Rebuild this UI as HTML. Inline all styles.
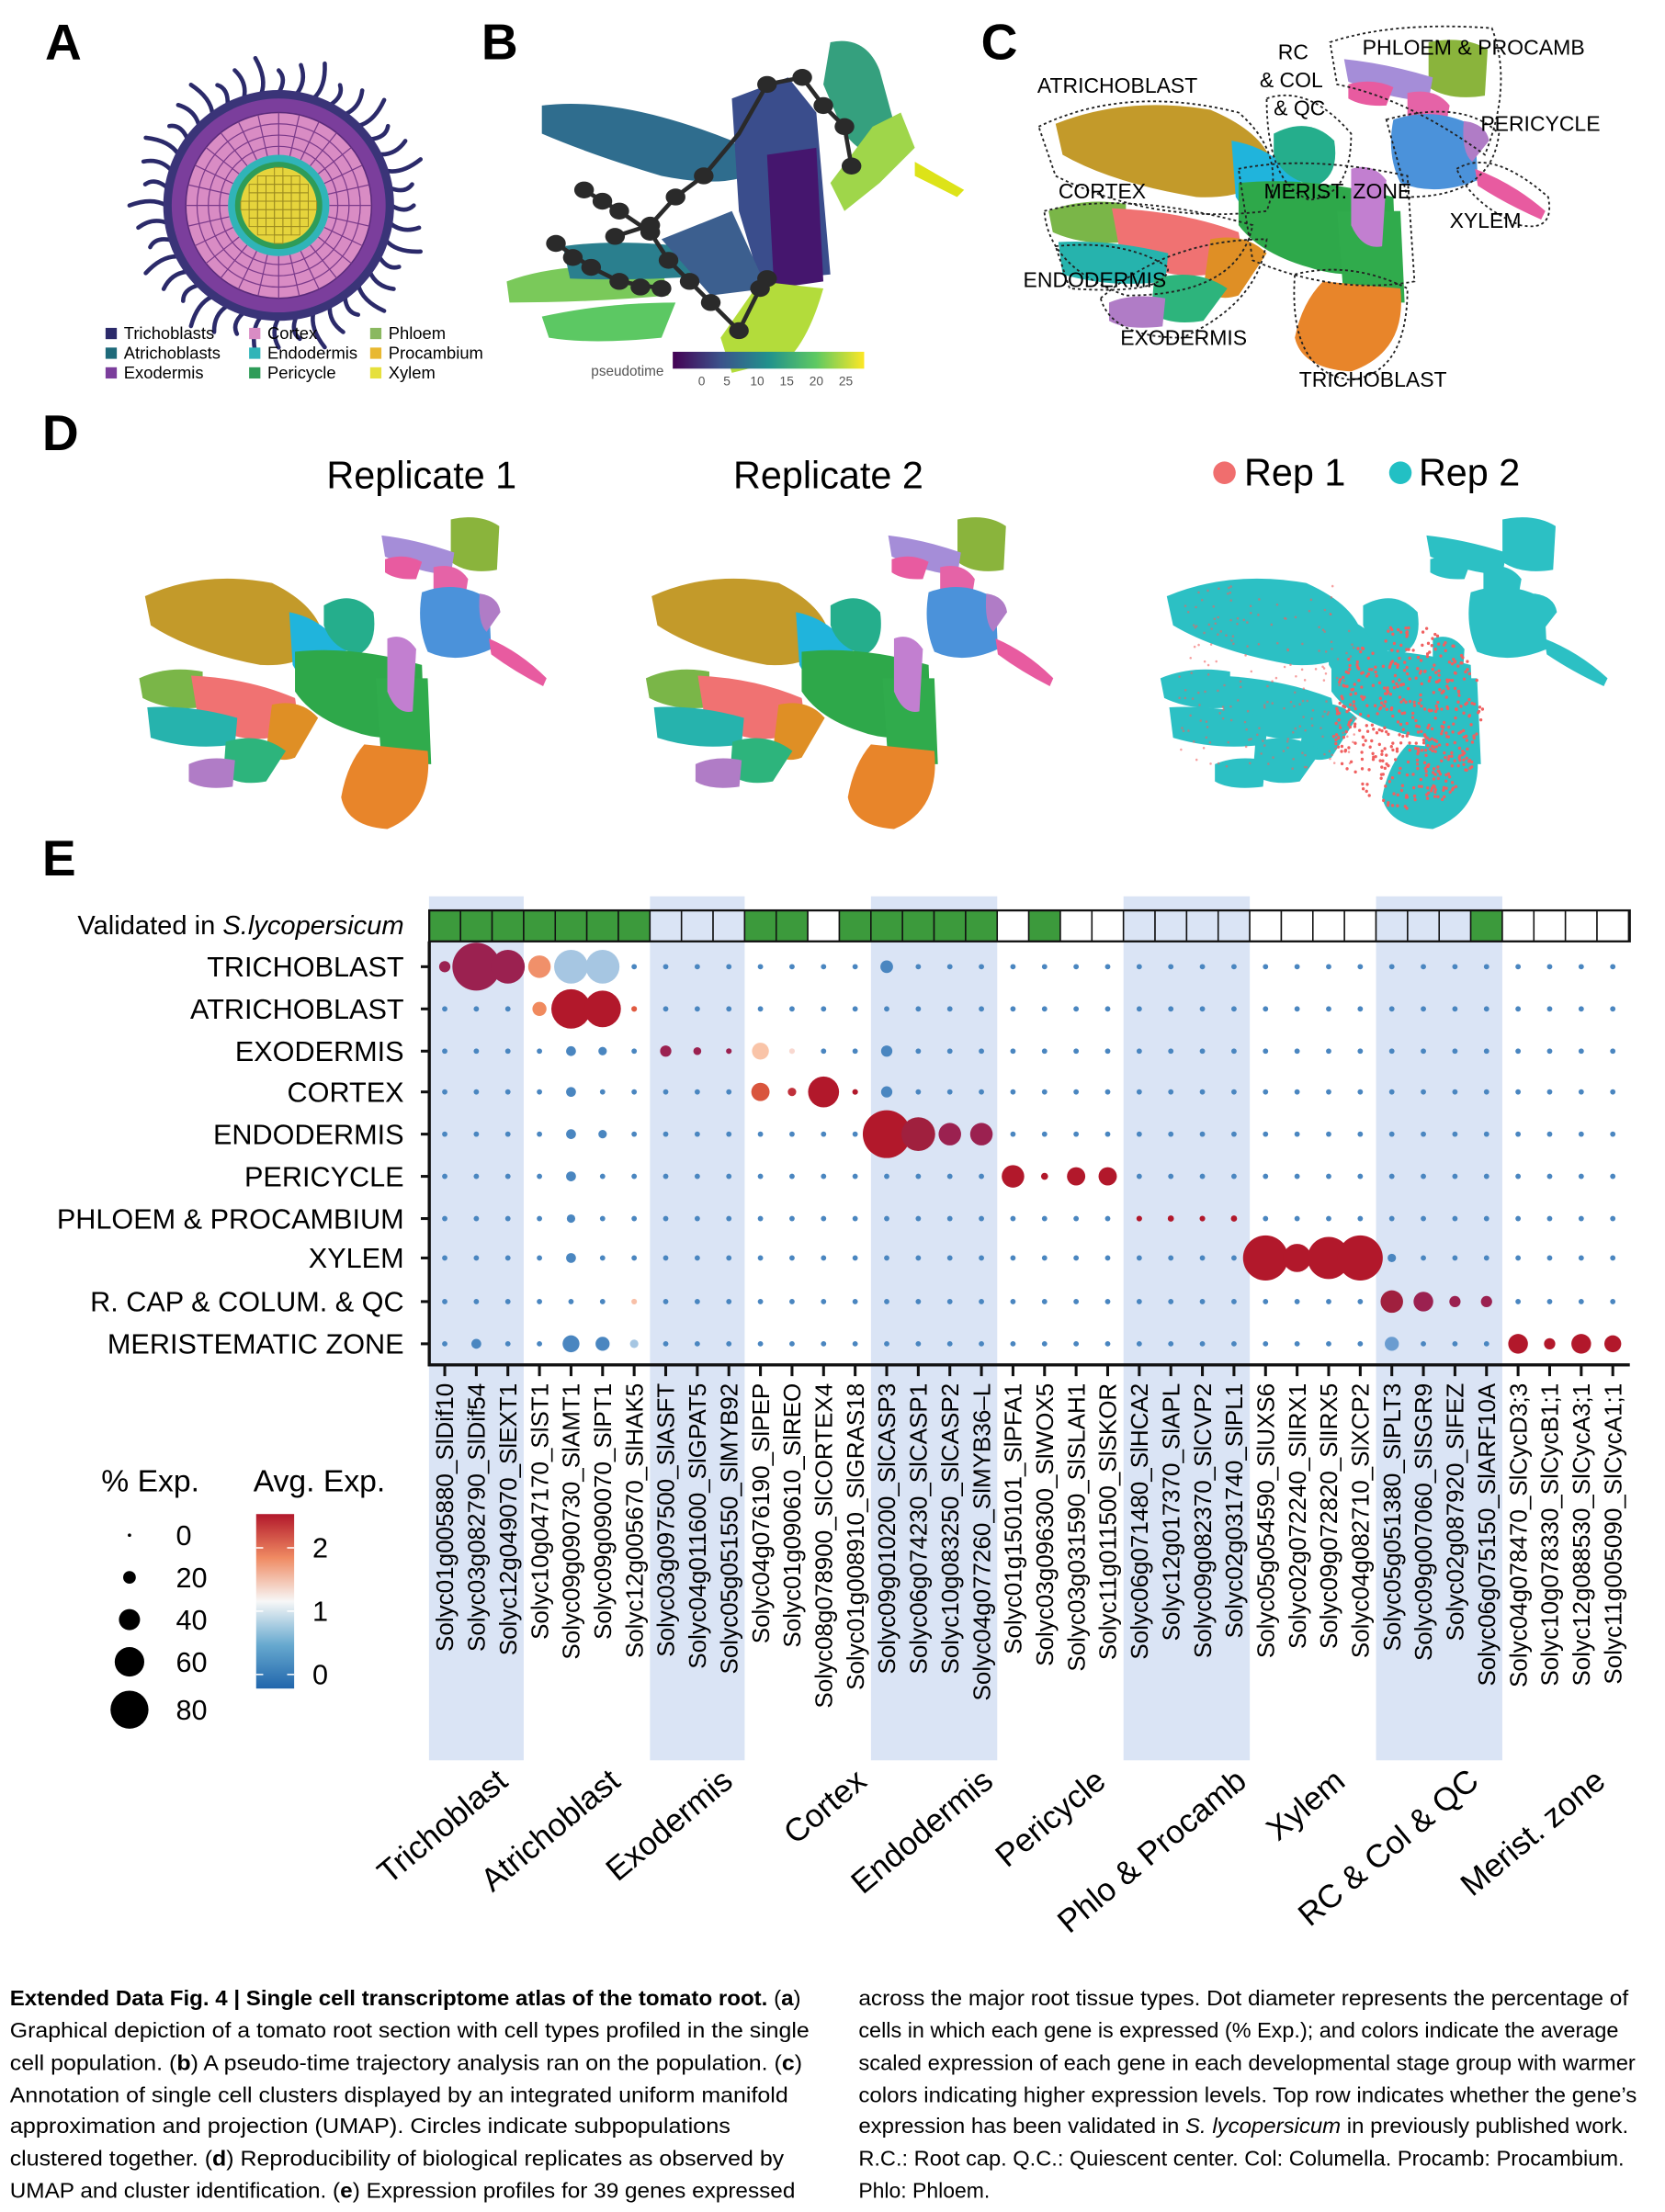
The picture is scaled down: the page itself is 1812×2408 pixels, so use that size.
<!DOCTYPE html>
<html><head><meta charset="utf-8"><style>
html,body{margin:0;padding:0;background:#fff;}
#wrap{width:1812px;height:2408px;overflow:hidden;position:relative;}
svg{display:block;}
text{font-family:"Liberation Sans",sans-serif;}
</style></head><body><div id="wrap">
<svg id="s" width="1812" height="2408" viewBox="0 0 1183 1572" preserveAspectRatio="none" xmlns="http://www.w3.org/2000/svg">
<defs>
<linearGradient id="vir" x1="0" x2="1" y1="0" y2="0">
<stop offset="0" stop-color="#440154"/><stop offset="0.25" stop-color="#3b528b"/><stop offset="0.5" stop-color="#21918c"/><stop offset="0.75" stop-color="#5ec962"/><stop offset="1" stop-color="#fde725"/></linearGradient>
<linearGradient id="rdbu" x1="0" x2="0" y1="0" y2="1">
<stop offset="0" stop-color="#b2182b"/><stop offset="0.25" stop-color="#ef8a62"/><stop offset="0.5" stop-color="#f7f7f7"/><stop offset="0.75" stop-color="#67a9cf"/><stop offset="1" stop-color="#2166ac"/></linearGradient>
<g id="umap">
<path d="M750,88 Q800,68 860,78 Q900,95 905,120 Q890,142 850,140 Q790,130 755,110 Z" fill="#c39a2a"/>
<path d="M875,100 Q905,105 925,130 L915,165 Q890,160 878,140 Z" fill="#20b4dc"/>
<path d="M905,95 Q930,82 948,100 Q952,125 935,132 Q912,128 905,110 Z" fill="#25ae8c"/>
<path d="M880,130 Q930,125 990,140 L992,190 Q960,200 930,190 Q895,180 880,160 Z" fill="#2ea84a"/>
<path d="M950,150 L995,150 L998,215 L955,215 Z" fill="#30ab4c"/>
<path d="M940,200 L995,205 Q1000,250 960,264 Q925,262 920,240 Q925,215 940,200 Z" fill="#e8852a"/>
<path d="M745,150 Q770,140 800,145 L800,172 Q770,175 748,165 Z" fill="#7ab648"/>
<path d="M790,148 Q840,150 880,165 Q885,185 860,195 Q820,200 795,175 Z" fill="#f07272"/>
<path d="M752,172 Q790,170 830,180 L828,200 Q790,205 755,195 Z" fill="#26b3ad"/>
<path d="M860,170 Q885,165 900,180 L880,210 Q865,215 855,205 Z" fill="#df8f25"/>
<path d="M820,198 Q850,190 872,205 L855,228 Q830,232 818,222 Z" fill="#2db47c"/>
<path d="M788,215 Q805,208 828,212 L826,232 Q800,235 788,228 Z" fill="#b07cc6"/>
<path d="M1015,30 Q1040,25 1057,35 L1055,68 Q1030,72 1015,62 Z" fill="#8ab43c"/>
<path d="M955,42 Q985,45 1018,55 L1015,72 Q985,70 958,58 Z" fill="#a58dd8"/>
<path d="M958,60 Q975,55 990,62 L985,75 Q968,76 958,70 Z" fill="#e85ba0"/>
<path d="M1000,66 Q1020,62 1030,75 L1025,102 Q1008,105 1000,90 Z" fill="#e563a7"/>
<path d="M990,85 Q1020,75 1048,90 L1050,128 Q1020,140 995,130 Q985,110 990,85 Z" fill="#4b92da"/>
<path d="M1040,86 Q1056,88 1058,100 L1046,115 Q1038,108 1040,86 Z" fill="#b07cc6"/>
<path d="M960,120 Q975,115 985,128 L982,175 Q968,178 960,160 Z" fill="#c27fd0"/>
<path d="M1048,120 Q1075,130 1098,150 L1095,156 Q1070,145 1050,132 Z" fill="#e85ba0"/>
</g>
</defs>

<!-- Panel letters -->
<g font-weight="bold" font-size="36">
<text x="32" y="42">A</text><text x="342" y="42">B</text><text x="697" y="42">C</text>
<text x="30" y="320">D</text><text x="30" y="622">E</text></g>

<!-- Panel A -->
<g transform="translate(198,146)">
<g stroke="#2b2a6a" stroke-width="3" fill="none" stroke-linecap="round" id="hairs"></g>
<circle r="82" fill="#3a3478"/>
<circle r="76" fill="#7b3e9c"/>
<circle r="66" fill="#d98cc4" stroke="#5a2a7a" stroke-width="1"/>
<g id="cells" fill="none" stroke="#7a3a8a" stroke-width="0.8"></g>
<circle r="36" fill="#30b4b8"/>
<circle r="31" fill="#2e9c58"/>
<circle r="27" fill="#e6d43c"/>
<g id="xcells" fill="none" stroke="#9a8a20" stroke-width="0.6"></g>
</g>
<g font-size="12">
<rect x="75" y="233" width="8" height="8" fill="#2b2a6a"/><text x="88" y="241">Trichoblasts</text>
<rect x="75" y="247" width="8" height="8" fill="#1e6a7a"/><text x="88" y="255">Atrichoblasts</text>
<rect x="75" y="261" width="8" height="8" fill="#7b3e9c"/><text x="88" y="269">Exodermis</text>
<rect x="177" y="233" width="8" height="8" fill="#d98cc4"/><text x="190" y="241">Cortex</text>
<rect x="177" y="247" width="8" height="8" fill="#30b4b8"/><text x="190" y="255">Endodermis</text>
<rect x="177" y="261" width="8" height="8" fill="#2e9c58"/><text x="190" y="269">Pericycle</text>
<rect x="263" y="233" width="8" height="8" fill="#8ab860"/><text x="276" y="241">Phloem</text>
<rect x="263" y="247" width="8" height="8" fill="#e8b830"/><text x="276" y="255">Procambium</text>
<rect x="263" y="261" width="8" height="8" fill="#e6e03c"/><text x="276" y="269">Xylem</text>
</g>

<!-- Panel B -->
<g>
<path d="M385,75 Q440,68 520,100 L540,120 Q520,135 470,125 Q420,110 385,95 Z" fill="#2f6d8e"/>
<path d="M520,70 L560,55 L580,80 L590,195 L540,200 L525,150 Z" fill="#3a4d8c"/>
<path d="M545,110 L580,105 L585,200 L550,205 Z" fill="#45166e"/>
<path d="M590,30 Q615,25 625,50 L640,105 Q620,120 600,95 L585,60 Z" fill="#35a07e"/>
<path d="M620,90 L640,80 L650,105 L625,130 L600,150 L590,130 Z" fill="#9fd64a"/>
<path d="M650,115 L685,135 L680,140 L650,125 Z" fill="#dde318"/>
<path d="M360,200 Q400,185 470,190 L475,210 Q420,215 362,215 Z" fill="#7ac95a"/>
<path d="M400,175 Q450,168 520,180 L515,195 Q460,200 405,198 Z" fill="#2a7f8e"/>
<path d="M385,225 Q430,215 480,215 L470,240 Q420,245 390,240 Z" fill="#5cc863"/>
<path d="M540,200 L585,205 Q575,240 560,255 L520,265 L512,240 Z" fill="#b3dc3b"/>
<path d="M470,170 L520,150 L545,205 L505,210 Z" fill="#3c5f8f"/>
<g stroke="#2a2a2a" stroke-width="3" fill="none">
<polyline points="415,135 440,150 462,165 475,185 490,200 505,215 525,235 540,205"/>
<polyline points="437,168 462,160 480,140 500,125 525,95 545,60 570,55 585,75 600,90 605,118"/>
<polyline points="395,173 420,190 440,200 470,205"/>
</g>
<g fill="#2a2a2a" id="bdots"></g>
<rect x="478" y="250" width="136" height="12" fill="url(#vir)"/>
<text x="420" y="267" font-size="10" fill="#555">pseudotime</text>
<g font-size="9" fill="#555"><text x="496" y="274">0</text><text x="514" y="274">5</text><text x="533" y="274">10</text><text x="554" y="274">15</text><text x="575" y="274">20</text><text x="596" y="274">25</text></g>
</g>

<!-- Panel C -->
<use href="#umap"/>
<g fill="none" stroke="#222" stroke-width="1.2" stroke-dasharray="2,2">
<path d="M738,90 Q800,60 880,80 Q915,110 900,150 Q820,160 750,125 Z"/>
<path d="M900,70 Q930,60 960,95 Q960,140 930,142 Q900,130 900,70 Z"/>
<path d="M945,30 Q990,15 1060,20 Q1075,60 1055,110 Q1000,70 950,60 Z"/>
<path d="M985,85 Q1040,70 1065,95 Q1060,140 1000,140 Z"/>
<path d="M1035,120 Q1060,105 1100,140 Q1105,165 1080,160 Q1045,145 1035,120 Z"/>
<path d="M880,120 Q930,110 1000,125 L1005,200 Q950,210 890,185 Z"/>
<path d="M742,150 Q800,135 890,160 Q880,210 800,210 Q745,190 742,150 Z"/>
<path d="M750,175 Q800,170 830,190 Q830,210 760,205 Z"/>
<path d="M782,212 Q830,170 900,170 Q895,215 840,240 Q790,240 782,212 Z"/>
<path d="M920,195 Q960,185 1000,205 Q1000,265 960,270 Q915,265 920,195 Z"/>
</g>
<g font-size="15">
<text x="737" y="66">ATRICHOBLAST</text>
<text x="908" y="42">RC</text><text x="895" y="62">&amp; COL</text><text x="905" y="82">&amp; QC</text>
<text x="968" y="39" textLength="158" lengthAdjust="spacingAndGlyphs">PHLOEM &amp; PROCAMB</text>
<text x="1052" y="93">PERICYCLE</text>
<text x="752" y="141">CORTEX</text>
<text x="898" y="141">MERIST. ZONE</text>
<text x="1030" y="162">XYLEM</text>
<text x="727" y="204">ENDODERMIS</text>
<text x="796" y="245">EXODERMIS</text>
<text x="923" y="275">TRICHOBLAST</text>
</g>

<!-- Panel D -->
<g font-size="27">
<text x="232" y="347">Replicate 1</text>
<text x="521" y="347">Replicate 2</text>
<circle cx="870" cy="336" r="8" fill="#f06e6e"/><text x="884" y="345">Rep 1</text>
<circle cx="995" cy="336" r="8" fill="#22c0c4"/><text x="1008" y="345">Rep 2</text>
</g>
<g transform="translate(-512,341) scale(0.82,0.94)"><use href="#umap"/></g>
<g transform="translate(-152,341) scale(0.82,0.94)"><use href="#umap"/></g>
<g id="rep3"></g>

<!-- Panel E -->
<g id="bands" fill="#dae4f5"></g>
<g id="dot"></g>

<!-- Legend -->
<g font-size="22">
<text x="72" y="1060">% Exp.</text>
<text x="180" y="1060">Avg. Exp.</text>
<g font-size="20"><text x="125" y="1098">0</text><text x="125" y="1128">20</text><text x="125" y="1158">40</text><text x="125" y="1188">60</text><text x="125" y="1222">80</text></g>
<circle cx="92" cy="1091" r="1.2"/><circle cx="92" cy="1121" r="4.5"/><circle cx="92" cy="1151" r="7.5"/><circle cx="92" cy="1181" r="10.5"/><circle cx="92" cy="1215" r="13.5"/>
<rect x="182" y="1076" width="27" height="124" fill="url(#rdbu)"/>
<g stroke="#fff" stroke-width="1"><line x1="182" y1="1100" x2="187" y2="1100"/><line x1="204" y1="1100" x2="209" y2="1100"/><line x1="182" y1="1145" x2="187" y2="1145"/><line x1="204" y1="1145" x2="209" y2="1145"/><line x1="182" y1="1190" x2="187" y2="1190"/><line x1="204" y1="1190" x2="209" y2="1190"/></g>
<g font-size="20"><text x="222" y="1107">2</text><text x="222" y="1152">1</text><text x="222" y="1197">0</text></g>
</g>

<!-- Caption -->
<g font-size="15" font-family="Liberation Sans Narrow, Liberation Sans, sans-serif">
<text x="7" y="1425" textLength="562" lengthAdjust="spacingAndGlyphs"><tspan font-weight="bold">Extended Data Fig. 4 | Single cell transcriptome atlas of the tomato root.</tspan> (<tspan font-weight="bold">a</tspan>)</text>
<text x="7" y="1448" textLength="568" lengthAdjust="spacingAndGlyphs">Graphical depiction of a tomato root section with cell types profiled in the single</text>
<text x="7" y="1471" textLength="563" lengthAdjust="spacingAndGlyphs">cell population. (<tspan font-weight="bold">b</tspan>) A pseudo-time trajectory analysis ran on the population. (<tspan font-weight="bold">c</tspan>)</text>
<text x="7" y="1494" textLength="553" lengthAdjust="spacingAndGlyphs">Annotation of single cell clusters displayed by an integrated uniform manifold</text>
<text x="7" y="1516" textLength="512" lengthAdjust="spacingAndGlyphs">approximation and projection (UMAP). Circles indicate subpopulations</text>
<text x="7" y="1539" textLength="550" lengthAdjust="spacingAndGlyphs">clustered together. (<tspan font-weight="bold">d</tspan>) Reproducibility of biological replicates as observed by</text>
<text x="7" y="1562" textLength="558" lengthAdjust="spacingAndGlyphs">UMAP and cluster identification. (<tspan font-weight="bold">e</tspan>) Expression profiles for 39 genes expressed</text>
<text x="610" y="1425" textLength="547" lengthAdjust="spacingAndGlyphs">across the major root tissue types. Dot diameter represents the percentage of</text>
<text x="610" y="1448" textLength="540" lengthAdjust="spacingAndGlyphs">cells in which each gene is expressed (% Exp.); and colors indicate the average</text>
<text x="610" y="1471" textLength="552" lengthAdjust="spacingAndGlyphs">scaled expression of each gene in each developmental stage group with warmer</text>
<text x="610" y="1494" textLength="553" lengthAdjust="spacingAndGlyphs">colors indicating higher expression levels. Top row indicates whether the gene’s</text>
<text x="610" y="1516" textLength="547" lengthAdjust="spacingAndGlyphs">expression has been validated in <tspan font-style="italic">S. lycopersicum</tspan> in previously published work.</text>
<text x="610" y="1539" textLength="544" lengthAdjust="spacingAndGlyphs">R.C.: Root cap. Q.C.: Quiescent center. Col: Columella. Procamb: Procambium.</text>
<text x="610" y="1562">Phlo: Phloem.</text>
</g>
</svg>
<script>
var NS="http://www.w3.org/2000/svg";
function el(p,t,a,txt){var e=document.createElementNS(NS,t);for(var k in a)e.setAttribute(k,a[k]);if(txt!=null)e.textContent=txt;p.appendChild(e);return e;}
var h=document.getElementById('hairs');
for(var i=0;i<40;i++){var a=i/40*Math.PI*2,c=Math.cos(a),s=Math.sin(a),r2=96+(i%3)*5;
el(h,'path',{d:'M'+(c*80)+','+(s*80)+' Q'+(c*90-s*6)+','+(s*90+c*6)+' '+(c*r2)+','+(s*r2)});}
var cl=document.getElementById('cells');
[42,50,58].forEach(function(r){el(cl,'circle',{r:r});});
for(var i=0;i<28;i++){var a=i/28*Math.PI*2;el(cl,'line',{x1:Math.cos(a)*36,y1:Math.sin(a)*36,x2:Math.cos(a)*66,y2:Math.sin(a)*66});}
var xc=document.getElementById('xcells');
for(var i=-24;i<=24;i+=6)for(var j=-24;j<=24;j+=6)if(i*i+j*j<600)el(xc,'rect',{x:i-3,y:j-3,width:6,height:6});
var bd=document.getElementById('bdots');
[[415,135],[428,143],[440,150],[462,165],[475,185],[490,200],[505,215],[525,235],[540,205],[437,168],[462,160],[480,140],[500,125],[545,60],[570,55],[585,75],[600,90],[605,118],[395,173],[407,183],[420,190],[440,200],[455,204],[470,205],[545,198]].forEach(function(p){el(bd,'ellipse',{cx:p[0],cy:p[1],rx:7,ry:6});});
var seed=7;function rnd(){seed=(seed*16807)%2147483647;return seed/2147483647;}
var r3=document.getElementById('rep3');
var tg=el(r3,'g',{transform:'translate(154,341) scale(0.9,0.94)'});
document.querySelectorAll('#umap path').forEach(function(p){el(tg,'path',{d:p.getAttribute('d'),fill:'#2cc0c4'});});
for(var i=0;i<700;i++){var x=880+rnd()*120,y=110+rnd()*150;if((x-940)*(x-940)/3600+(y-180)*(y-180)/4900<1)el(tg,'circle',{cx:x,cy:y,r:1.2,fill:'#f06060'});}
for(var i=0;i<200;i++){var x=760+rnd()*140,y=80+rnd()*140;el(tg,'circle',{cx:x,cy:y,r:0.9,fill:'#f06060','fill-opacity':0.6});}
var D=document.getElementById('dot'),B=document.getElementById('bands');
var x0=316,dx=22.43,L=305,R=1158;
function cx(i){return x0+i*dx;}
[[0,2],[7,9],[14,17],[22,25],[30,33]].forEach(function(b){el(B,'rect',{x:cx(b[0])-11.2,y:637,width:(b[1]-b[0]+1)*dx,height:614});});
var val=[1,1,1,1,1,1,1,0,0,0,1,1,0,1,1,1,1,1,0,1,0,0,0,0,0,0,0,0,0,0,0,0,0,1,0,0,0,0];
for(var i=0;i<38;i++){var shaded=[0,1,2,7,8,9,14,15,16,17,22,23,24,25,30,31,32,33].indexOf(i)>=0;
el(D,'rect',{x:cx(i)-dx/2,y:647,width:dx,height:22,fill:val[i]?'#3c9a3c':(shaded?'#dae4f5':'#fff'),stroke:'#111','stroke-width':1});}
el(D,'rect',{x:L,y:647,width:R-L,height:22,fill:'none',stroke:'#111','stroke-width':1.5});
var rows=['TRICHOBLAST','ATRICHOBLAST','EXODERMIS','CORTEX','ENDODERMIS','PERICYCLE','PHLOEM & PROCAMBIUM','XYLEM','R. CAP & COLUM. & QC','MERISTEMATIC ZONE'];
var ry=[687,717,747,776,806,836,866,894,925,955];
el(D,'text',{x:287,y:664,'text-anchor':'end','font-size':19},null).innerHTML='Validated in <tspan font-style="italic">S.lycopersicum</tspan>';
rows.forEach(function(n,k){el(D,'text',{x:287,y:ry[k]+7,'text-anchor':'end','font-size':20},n);el(D,'line',{x1:299,x2:305,y1:ry[k],y2:ry[k],stroke:'#111','stroke-width':2});});
var DR='#9b2150',RD='#b2182b',BL='#4a86c0',LB='#a6c6e2';
var ov={};
function o(r,c,rad,col){ov[r+'_'+c]=[rad,col];}
o(0,0,4,DR);o(0,1,17,DR);o(0,2,12,DR);o(0,3,8,'#f0906a');o(0,4,12,LB);o(0,5,12,LB);o(0,14,4.5,BL);
o(1,3,5,'#f08a5e');o(1,4,14,RD);o(1,5,13,RD);o(1,6,2,'#e05a40');
o(2,4,3.5,BL);o(2,5,3,BL);o(2,7,4,DR);o(2,8,2.8,DR);o(2,9,2,DR);o(2,10,6,'#f9c4a8');o(2,11,2,'#f8d8d0');o(2,14,4,BL);
o(3,4,3.5,BL);o(3,10,6.5,'#d9553d');o(3,11,3,'#c0303a');o(3,12,11,RD);o(3,13,2,RD);o(3,14,4,BL);
o(4,4,3.5,BL);o(4,5,3,BL);o(4,14,17,RD);o(4,15,12,'#a0203e');o(4,16,8,DR);o(4,17,8,DR);
o(5,4,3.5,BL);o(5,18,8,RD);o(5,19,2.5,RD);o(5,20,6.5,RD);o(5,21,6.5,RD);
o(6,22,2,RD);o(6,23,2.2,RD);o(6,24,2,RD);o(6,25,2.2,RD);o(6,4,3,BL);
o(7,26,16,RD);o(7,27,10,RD);o(7,28,15,RD);o(7,29,16,RD);o(7,4,3.5,BL);o(7,30,3,BL);
o(8,6,2,'#f8c0a8');o(8,30,8,'#a0203e');o(8,31,7,DR);o(8,32,4,DR);o(8,33,4,DR);
o(9,1,3.5,BL);o(9,4,6,BL);o(9,5,5,BL);o(9,6,3,LB);o(9,30,5,'#6a9cd0');o(9,34,7,RD);o(9,35,4,RD);o(9,36,7,RD);o(9,37,6,RD);
for(var r=0;r<10;r++)for(var c=0;c<38;c++){var v=ov[r+'_'+c]||[1.9,BL];el(D,'circle',{cx:cx(c),cy:ry[r],r:v[0],fill:v[1]});}
el(D,'line',{x1:L,x2:L,y1:669,y2:971,stroke:'#111','stroke-width':2.2});
el(D,'line',{x1:L-1,x2:R,y1:970,y2:970,stroke:'#111','stroke-width':2.2});
var genes=['Solyc01g005880_SlDif10','Solyc03g082790_SlDif54','Solyc12g049070_SlEXT1','Solyc10g047170_SlST1','Solyc09g090730_SlAMT1','Solyc09g090070_SlPT1','Solyc12g005670_SlHAK5','Solyc03g097500_SlASFT','Solyc04g011600_SlGPAT5','Solyc05g051550_SlMYB92','Solyc04g076190_SlPEP','Solyc01g090610_SlREO','Solyc08g078900_SlCORTEX4','Solyc01g008910_SlGRAS18','Solyc09g010200_SlCASP3','Solyc06g074230_SlCASP1','Solyc10g083250_SlCASP2','Solyc04g077260_SlMYB36–L','Solyc01g150101_SlPFA1','Solyc03g096300_SlWOX5','Solyc03g031590_SlSLAH1','Solyc11g011500_SlSKOR','Solyc06g071480_SlHCA2','Solyc12g017370_SlAPL','Solyc09g082370_SlCVP2','Solyc02g031740_SlPL1','Solyc05g054590_SlUXS6','Solyc02g072240_SlIRX1','Solyc09g072820_SlIRX5','Solyc04g082710_SlXCP2','Solyc05g051380_SlPLT3','Solyc09g007060_SlSGR9','Solyc02g087920_SlFEZ','Solyc06g075150_SlARF10A','Solyc04g078470_SlCycD3;3','Solyc10g078330_SlCycB1;1','Solyc12g088530_SlCycA3;1','Solyc11g005090_SlCycA1;1'];
genes.forEach(function(g,i){var x=cx(i);el(D,'line',{x1:x,x2:x,y1:971,y2:978,stroke:'#111','stroke-width':2});
el(D,'text',{x:0,y:0,transform:'translate('+(x+6)+',983) rotate(-90)','text-anchor':'end','font-size':17},g);});
var grp=[['Trichoblast',362],['Atrichoblast',442],['Exodermis',522],['Cortex',617],['Endodermis',707],['Pericycle',787],['Phlo & Procamb',887],['Xylem',957],['RC & Col & QC',1052],['Merist. zone',1142]];
grp.forEach(function(g){el(D,'text',{x:0,y:0,transform:'translate('+g[1]+',1268) rotate(-40)','text-anchor':'end','font-size':23},g[0]);});
</script>
</div></body></html>
